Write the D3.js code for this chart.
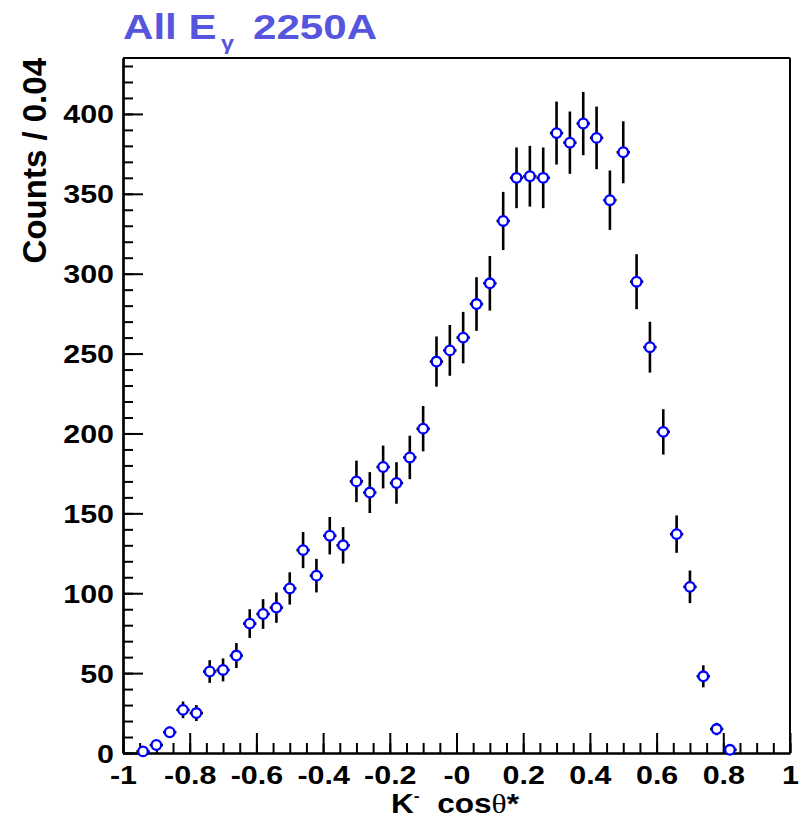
<!DOCTYPE html>
<html>
<head>
<meta charset="utf-8">
<script src="https://cdn.jsdelivr.net/npm/d3@7"></script>
<style>
  html, body { margin: 0; padding: 0; background: #fff; }
  svg { display: block; }
  text { font-family: "Liberation Sans", Arial, Helvetica, sans-serif; font-weight: bold; }
</style>
</head>
<body>
<svg id="chart" width="801" height="823"></svg>
<script>
// ---- data ----
const binCenters = [-0.94, -0.90, -0.86, -0.82, -0.78, -0.74, -0.70, -0.66, -0.62, -0.58,
                    -0.54, -0.50, -0.46, -0.42, -0.38, -0.34, -0.30, -0.26, -0.22, -0.18,
                    -0.14, -0.10, -0.06, -0.02, 0.02, 0.06, 0.10, 0.14, 0.18, 0.22,
                    0.26, 0.30, 0.34, 0.38, 0.42, 0.46, 0.50, 0.54, 0.58, 0.62,
                    0.66, 0.70, 0.74, 0.78, 0.82];
const counts = [1, 5, 13, 27, 25, 51, 52, 61, 81, 87,
                91, 103, 127, 111, 136, 130, 170, 163, 179, 169,
                185, 203, 245, 252, 260, 281, 294, 333, 360, 361,
                360, 388, 382, 394, 385, 346, 376, 295, 254, 201,
                137, 104, 48, 15, 2];
const errors = [1.0, 2.2, 3.6, 5.2, 5.0, 7.1, 7.2, 7.8, 9.0, 9.3,
                9.5, 10.1, 11.3, 10.5, 11.7, 11.4, 13.0, 12.8, 13.4, 13.0,
                13.6, 14.2, 15.7, 15.9, 16.1, 16.8, 17.1, 18.2, 19.0, 19.0,
                19.0, 19.7, 19.5, 19.8, 19.6, 18.6, 19.4, 17.2, 15.9, 14.2,
                11.7, 10.2, 6.9, 3.9, 1.4];
const binHalfWidth = 0.02;
const xTickValues = [-1, -0.8, -0.6, -0.4, -0.2, 0, 0.2, 0.4, 0.6, 0.8, 1];
const xTickLabels = ["-1", "-0.8", "-0.6", "-0.4", "-0.2", "-0", "0.2", "0.4", "0.6", "0.8", "1"];
const yTickValues = [0, 50, 100, 150, 200, 250, 300, 350, 400];
const yTickLabels = ["0", "50", "100", "150", "200", "250", "300", "350", "400"];
const xMinorTicks = d3.range(-1, 1.0001, 0.05).map(v => +v.toFixed(2));
const yMinorTicks = d3.range(0, 431, 10);

// ---- layout ----
const L = 123, R = 790, T = 58, B = 753;
const SX = 1.17; // horizontal stretch of the original raster text

const svg = d3.select("#chart");
const x = d3.scaleLinear().domain([-1, 1]).range([L, R]);
const y = d3.scaleLinear().domain([0, 435]).range([B, T]);

// frame (top & right)
svg.append("line").attr("x1", L).attr("x2", R).attr("y1", T).attr("y2", T)
  .attr("stroke", "#000").attr("stroke-width", 2);
svg.append("line").attr("x1", R).attr("x2", R).attr("y1", T).attr("y2", B)
  .attr("stroke", "#000").attr("stroke-width", 2);

// minor axes
const gxMinor = svg.append("g").attr("transform", `translate(0,${B})`)
  .call(d3.axisBottom(x).tickValues(xMinorTicks).tickSize(-10).tickSizeOuter(0).tickFormat(""));
const gyMinor = svg.append("g").attr("transform", `translate(${L},0)`)
  .call(d3.axisLeft(y).tickValues(yMinorTicks).tickSize(-10).tickSizeOuter(0).tickFormat(""));

// major axes
const gx = svg.append("g").attr("transform", `translate(0,${B})`)
  .call(d3.axisBottom(x).tickValues(xTickValues).tickSize(-20).tickSizeOuter(0)
    .tickFormat((d, i) => xTickLabels[i]));
const gy = svg.append("g").attr("transform", `translate(${L},0)`)
  .call(d3.axisLeft(y).tickValues(yTickValues).tickSize(-20).tickSizeOuter(0)
    .tickFormat((d, i) => yTickLabels[i]));

[gxMinor, gyMinor, gx, gy].forEach(g => {
  g.selectAll("line").attr("stroke", "#000").attr("stroke-width", 2);
  g.select(".domain").attr("stroke", "#000").attr("stroke-width", 2.2);
});

gx.selectAll("text")
  .attr("x", 0).attr("y", 0).attr("dy", null)
  .attr("transform", `translate(0,31) scale(${SX},1)`)
  .attr("font-size", 26).attr("fill", "#000")
  .attr("font-family", "'Liberation Sans', Arial, sans-serif").attr("font-weight", "bold");
gy.selectAll("text")
  .attr("x", 0).attr("dy", null)
  .attr("transform", `translate(-9,9) scale(${SX},1)`)
  .attr("font-size", 26).attr("fill", "#000")
  .attr("font-family", "'Liberation Sans', Arial, sans-serif").attr("font-weight", "bold");

// error bars
const pts = binCenters.map((c, i) => ({c, n: counts[i], e: errors[i]}));
const eb = svg.append("g").attr("stroke", "#000").attr("stroke-width", 2.6);
eb.selectAll("line.v").data(pts).join("line").attr("class", "v")
  .attr("x1", d => x(d.c)).attr("x2", d => x(d.c))
  .attr("y1", d => y(Math.max(0, d.n - d.e))).attr("y2", d => y(d.n + d.e));
eb.selectAll("line.h").data(pts).join("line").attr("class", "h")
  .attr("x1", d => x(d.c - binHalfWidth)).attr("x2", d => x(d.c + binHalfWidth))
  .attr("y1", d => y(d.n)).attr("y2", d => y(d.n));

// markers
svg.append("g").selectAll("circle").data(pts).join("circle")
  .attr("cx", d => x(d.c)).attr("cy", d => y(d.n)).attr("r", 4.8)
  .attr("fill", "#fff").attr("stroke", "#0000ff").attr("stroke-width", 2.3);

// title
const titleColor = "#5555dd";
function stretched(xp, yp, str, size, opts = {}) {
  const t = svg.append("text")
    .attr("transform", `translate(${xp},${yp}) scale(${opts.sx || SX},1)`)
    .attr("font-size", size).attr("fill", opts.fill || "#000")
    .attr("text-anchor", opts.anchor || "start")
    .text(str);
  return t;
}
stretched(123, 39, "All E", 36, {fill: titleColor});
stretched(221, 50, "γ", 20, {fill: titleColor});
stretched(253, 39, "2250A", 36, {fill: titleColor});

// x axis title
const xt = svg.append("text")
  .attr("transform", `translate(455,813) scale(${SX},1)`)
  .attr("text-anchor", "middle").attr("font-size", 27).attr("fill", "#000");
xt.append("tspan").text("K");
xt.append("tspan").attr("font-size", 15).attr("dy", -12).text("-");
xt.append("tspan").attr("dy", 12).text("\u00a0\u00a0cos");
xt.append("tspan").attr("font-family", "'Liberation Serif', 'DejaVu Serif', serif")
  .attr("font-weight", "normal").text("θ");
xt.append("tspan").text("*");

// y axis title
svg.append("text")
  .attr("transform", `translate(46,${T}) rotate(-90)`)
  .attr("text-anchor", "end").attr("font-size", 33).attr("fill", "#000")
  .text("Counts / 0.04");
</script>
</body>
</html>
